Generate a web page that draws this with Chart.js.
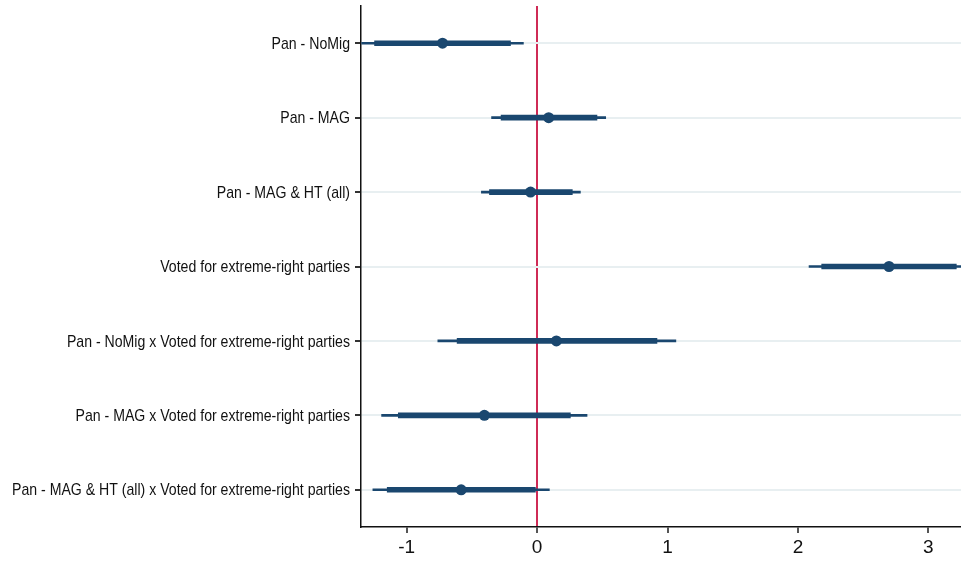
<!DOCTYPE html>
<html>
<head>
<meta charset="utf-8">
<script src="https://cdn.jsdelivr.net/npm/chart.js@4/dist/chart.umd.min.js"></script>
<style>
  html, body { margin: 0; padding: 0; background: #fff; }
  #wrap { width: 961px; height: 562px; }
</style>
</head>
<body>
<div id="wrap"><canvas id="coefChart"></canvas></div>
<script>
// coefficient terms, top to bottom
const terms = [
  "Pan - NoMig",
  "Pan - MAG",
  "Pan - MAG & HT (all)",
  "Voted for extreme-right parties",
  "Pan - NoMig x Voted for extreme-right parties",
  "Pan - MAG x Voted for extreme-right parties",
  "Pan - MAG & HT (all) x Voted for extreme-right parties"
];

// point estimates
const estimates = [-0.725, 0.089, -0.05, 2.698, 0.148, -0.404, -0.582];

// inner (thick) interval
const innerLo = [-1.246, -0.276, -0.365, 2.182, -0.613, -1.064, -1.149];
const innerHi = [-0.204, 0.459, 0.270, 3.214, 0.919, 0.255, -0.013];

// outer (thin) interval
const outerLo = [-1.345, -0.349, -0.427, 2.085, -0.761, -1.192, -1.259];
const outerHi = [-0.105, 0.526, 0.332, 3.311, 1.064, 0.383, 0.094];

const xTicks = [-1, 0, 1, 2, 3];

const navy = "#1a476f";
const refRed = "#cf2b56";
const sans = "'Liberation Sans', Arial, sans-serif";

// term labels in a condensed face: no narrow font available, so squeeze horizontally
const narrowLabels = {
  id: "narrowLabels",
  afterDraw(chart) {
    const ctx = chart.ctx;
    const y = chart.scales.y;
    const right = y.right - 11;
    ctx.save();
    ctx.fillStyle = "#111";
    ctx.font = "17px " + sans;
    ctx.textAlign = "right";
    ctx.textBaseline = "middle";
    terms.forEach((t, i) => {
      ctx.save();
      ctx.translate(right, y.getPixelForTick(i) + 1);
      ctx.scale(0.83, 1);
      ctx.fillText(t, 0, 0);
      ctx.restore();
    });
    ctx.restore();
  }
};

new Chart(document.getElementById("coefChart"), {
  type: "bar",
  data: {
    labels: terms,
    datasets: [
      {
        type: "line",
        indexAxis: "y",
        data: estimates,
        showLine: false,
        pointRadius: 5.5,
        pointBackgroundColor: navy,
        pointBorderWidth: 0,
        order: 0
      },
      {
        indexAxis: "y",
        data: innerLo.map((lo, i) => [lo, innerHi[i]]),
        backgroundColor: navy,
        barThickness: 5,
        grouped: false,
        borderSkipped: false,
        order: 1
      },
      {
        indexAxis: "y",
        data: outerLo.map((lo, i) => [lo, outerHi[i]]),
        backgroundColor: navy,
        barThickness: 2,
        grouped: false,
        borderSkipped: false,
        order: 2
      }
    ]
  },
  plugins: [narrowLabels],
  options: {
    indexAxis: "y",
    responsive: true,
    maintainAspectRatio: false,
    animation: false,
    layout: { autoPadding: false, padding: { top: 6, right: 0, left: 0, bottom: 0 } },
    plugins: {
      legend: { display: false },
      tooltip: { enabled: false }
    },
    scales: {
      x: {
        type: "linear",
        min: -1.35,
        max: 3.25,
        z: 1,
        afterBuildTicks: (scale) => {
          scale.ticks = xTicks.map(v => ({ value: v }));
        },
        afterFit: (scale) => {
          scale.height = 35;
          scale.paddingLeft = 0;
          scale.paddingRight = 0;
        },
        border: { display: true, color: "#111", width: 1.5 },
        grid: {
          color: (c) => (c.tick && c.tick.value === 0) ? refRed : "rgba(0,0,0,0)",
          lineWidth: 2,
          tickColor: "#555",
          tickLength: 6,
          drawTicks: true
        },
        ticks: {
          color: "#111",
          padding: 3,
          font: { family: sans, size: 19 }
        }
      },
      y: {
        type: "category",
        offset: true,
        afterFit: (scale) => {
          scale.width = 361;
          scale.paddingTop = 0;
          scale.paddingBottom = 0;
        },
        border: { display: true, color: "#111", width: 1.5 },
        grid: {
          color: "#e8eff1",
          lineWidth: 2,
          tickColor: "#333",
          tickLength: 6,
          offset: false
        },
        ticks: { display: false }
      }
    }
  }
});
</script>
</body>
</html>
